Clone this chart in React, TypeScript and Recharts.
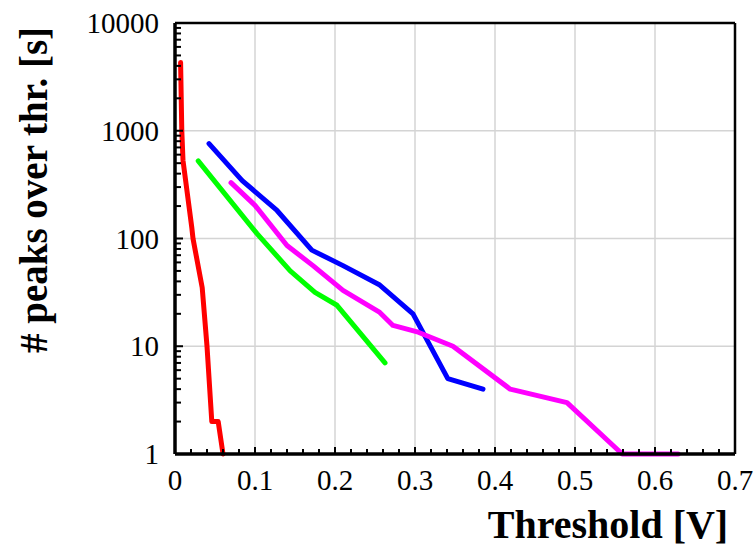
import { LineChart, Line, XAxis, YAxis, CartesianGrid, ReferenceLine } from 'recharts';

const redX = [0.007, 0.0085, 0.01, 0.021, 0.0225, 0.034, 0.04, 0.046, 0.054, 0.06];
const redY = [4300, 1000, 530, 126, 100, 35, 10, 2, 2, 1];

const blueX = [0.0425, 0.084, 0.1275, 0.171, 0.21, 0.256, 0.2975, 0.341, 0.385];
const blueY = [760, 345, 182, 78, 56, 37, 20, 5, 4];

const greenX = [0.029, 0.1025, 0.144, 0.175, 0.2025, 0.2625];
const greenY = [525, 111, 50, 31.6, 24, 7];

const magentaX = [0.07, 0.1, 0.14, 0.1725, 0.21, 0.256, 0.2725, 0.304, 0.3475, 0.419, 0.49, 0.559, 0.629];
const magentaY = [330, 203, 86, 56, 33, 20.6, 15.6, 13.5, 10, 4, 3, 1, 1];

const xMajor = [0, 0.1, 0.2, 0.3, 0.4, 0.5, 0.6, 0.7];
const xMinor = [
  0.02, 0.04, 0.06, 0.08, 0.12, 0.14, 0.16, 0.18, 0.22, 0.24, 0.26, 0.28,
  0.32, 0.34, 0.36, 0.38, 0.42, 0.44, 0.46, 0.48, 0.52, 0.54, 0.56, 0.58,
  0.62, 0.64, 0.66, 0.68,
];
const yMajor = [1, 10, 100, 1000, 10000];
const yMinor = [
  2, 3, 4, 5, 6, 7, 8, 9,
  20, 30, 40, 50, 60, 70, 80, 90,
  200, 300, 400, 500, 600, 700, 800, 900,
  2000, 3000, 4000, 5000, 6000, 7000, 8000, 9000,
];

const zip = (xs: number[], ys: number[]) => xs.map((x, i) => ({ x, y: ys[i] }));

const series = [
  { name: 'red', color: '#ff0000', data: zip(redX, redY) },
  { name: 'blue', color: '#0000ff', data: zip(blueX, blueY) },
  { name: 'green', color: '#00ff00', data: zip(greenX, greenY) },
  { name: 'magenta', color: '#ff00ff', data: zip(magentaX, magentaY) },
];

const FONT = 'Liberation Serif';

const XTick = (props: any) => {
  const { x, y, payload } = props;
  const major = xMajor.includes(payload.value);
  return (
    <g>
      <line x1={x} x2={x} y1={y} y2={y - (major ? 7 : 5)} stroke="#000" strokeWidth={2} />
      {major && (
        <text x={x} y={y + 36} textAnchor="middle" fontFamily={FONT} fontSize={29} fill="#000">
          {payload.value}
        </text>
      )}
    </g>
  );
};

const YTick = (props: any) => {
  const { x, y, payload } = props;
  const major = yMajor.includes(payload.value);
  return (
    <g>
      <line x1={x} x2={x + (major ? 8 : 6)} y1={y} y2={y} stroke="#000" strokeWidth={2} />
      {major && (
        <text x={x - 16} y={y + 10} textAnchor="end" fontFamily={FONT} fontSize={29} fill="#000">
          {payload.value}
        </text>
      )}
    </g>
  );
};

export default function App() {
  return (
    <div style={{ position: 'absolute', left: 0, top: 0, width: 756, height: 552, background: '#fff' }}>
      <LineChart width={756} height={552} margin={{ top: 23, right: 21, left: 75, bottom: 58 }}>
        <CartesianGrid
          stroke="#d4d4d4"
          strokeWidth={1.5}
          verticalValues={xMajor}
          horizontalValues={yMajor}
        />
        <XAxis
          type="number"
          dataKey="x"
          domain={[0, 0.7]}
          ticks={[...xMajor, ...xMinor].sort((a, b) => a - b)}
          interval={0}
          height={40}
          tickSize={0}
          tickMargin={0}
          tick={<XTick />}
          axisLine={{ stroke: '#000', strokeWidth: 3.5 }}
        />
        <YAxis
          type="number"
          dataKey="y"
          scale="log"
          domain={[1, 10000]}
          ticks={[...yMajor, ...yMinor].sort((a, b) => a - b)}
          interval={0}
          width={100}
          tickSize={0}
          tickMargin={0}
          tick={<YTick />}
          axisLine={{ stroke: '#000', strokeWidth: 3.5 }}
        />
        <ReferenceLine y={10000} stroke="#000" strokeWidth={2.5} />
        <ReferenceLine x={0.7} stroke="#000" strokeWidth={2.5} />
        {series.map((s) => (
          <Line
            key={s.name}
            data={s.data}
            dataKey="y"
            stroke={s.color}
            strokeWidth={5}
            dot={false}
            strokeLinecap="round"
            strokeLinejoin="round"
            isAnimationActive={false}
          />
        ))}
      </LineChart>
      <svg width={756} height={552} style={{ position: 'absolute', left: 0, top: 0, pointerEvents: 'none' }}>
        <text x={608} y={538} textAnchor="middle" fontFamily={FONT} fontWeight="bold" fontSize={40} fill="#000">
          Threshold [V]
        </text>
        <text
          transform="translate(47,190) rotate(-90)"
          textAnchor="middle"
          fontFamily={FONT}
          fontWeight="bold"
          fontSize={39}
          fill="#000"
        >
          # peaks over thr. [s]
        </text>
      </svg>
    </div>
  );
}
